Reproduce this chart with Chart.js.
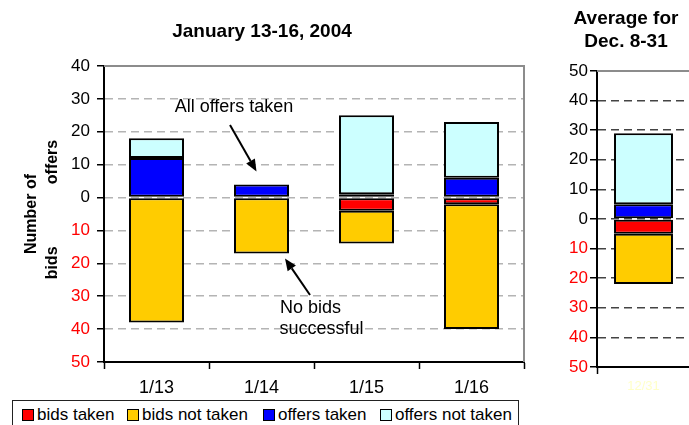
<!DOCTYPE html>
<html>
<head>
<meta charset="utf-8">
<script src="https://cdn.jsdelivr.net/npm/chart.js@4.4.1/dist/chart.umd.min.js"></script>
<style>
  html, body { margin: 0; padding: 0; background: #fff; overflow: hidden; }
  body { width: 689px; height: 425px; position: relative; font-family: 'Liberation Sans', Arial, sans-serif; }
  #left { position: absolute; left: 0; top: 0; }
  #right { position: absolute; left: 540px; top: 0; }
  #legend { position: absolute; left: 12px; top: 400px; width: 507px; height: 32px; border: 1.5px solid #222; box-sizing: border-box; }
  .item { position: absolute; top: 4px; font-size: 17px; line-height: 20px; white-space: nowrap; color: #000; }
  .sq { display: inline-block; width: 10px; height: 10px; border: 1px solid #000; margin-right: 3px; vertical-align: -1px; }
</style>
</head>
<body>
<canvas id="left" width="530" height="400"></canvas>
<canvas id="right" width="150" height="400"></canvas>
<div id="legend"></div>
<script>
/* 데이터 - January 13-16 */
const days = ['1/13', '1/14', '1/15', '1/16'];
const bidsTaken = [0, 0, -4, -2];
const bidsNotTaken = [-38, -17, -10, -38];
const offersTaken = [12, 4, 1, 6];
const offersNotTaken = [6, 0, 24, 17];

/* 데이터 - average Dec. 8-31 */
const avgLabel = ['12/31'];
const avgBidsTaken = [-5];
const avgBidsNotTaken = [-17];
const avgOffersTaken = [5];
const avgOffersNotTaken = [24];

const seriesNames = ['bids taken', 'bids not taken', 'offers taken', 'offers not taken'];
const seriesColors = ['#ff0000', '#ffcc00', '#0000ff', '#ccffff'];

const FONT = "'Liberation Sans', Arial, sans-serif";
Chart.defaults.font.family = FONT;
Chart.defaults.color = '#000';

function makeSets(a, b, c, d, pct) {
  return [a, b, c, d].map((vals, i) => ({
    label: seriesNames[i],
    data: vals,
    backgroundColor: seriesColors[i],
    borderColor: '#000',
    borderWidth: ctx => ctx.raw ? 2 : 0,   // 0 값은 테두리 없음
    borderSkipped: false,
    barPercentage: pct,
    categoryPercentage: 1
  }));
}

function yAxis(min, max, gridColor, pad, width) {
  return {
    stacked: true,
    min: min,
    max: max,
    afterFit: s => { s.width = width; },
    grid: { color: gridColor, lineWidth: 1.5, borderDash: [8, 5], tickColor: '#000', tickWidth: 1.5, tickLength: 7, tickBorderDash: [] },
    border: { color: '#000', width: 2, dash: [8, 5] },
    ticks: {
      stepSize: 10,
      padding: pad,
      font: { size: 17 },
      color: c => c.tick.value < 0 ? '#ff0000' : '#000',
      callback: v => Math.abs(v)
    }
  };
}

// 테두리 (위, 오른쪽 회색)
const frame = {
  id: 'frame',
  beforeDatasetsDraw(chart) {
    const { ctx, chartArea: a } = chart;
    ctx.save();
    ctx.strokeStyle = '#8c8c8c';
    ctx.lineWidth = 2;
    ctx.beginPath();
    ctx.moveTo(a.left, a.top);
    ctx.lineTo(a.right, a.top);
    ctx.lineTo(a.right, a.bottom);
    ctx.stroke();
    ctx.restore();
  }
};

function arrow(ctx, x1, y1, x2, y2) {
  const ang = Math.atan2(y2 - y1, x2 - x1);
  const hl = 12, hw = 5;
  const bx = x2 - hl * Math.cos(ang), by = y2 - hl * Math.sin(ang);
  ctx.beginPath();
  ctx.moveTo(x1, y1);
  ctx.lineTo(bx, by);
  ctx.stroke();
  ctx.beginPath();
  ctx.moveTo(x2, y2);
  ctx.lineTo(bx + hw * Math.sin(ang), by - hw * Math.cos(ang));
  ctx.lineTo(bx - hw * Math.sin(ang), by + hw * Math.cos(ang));
  ctx.closePath();
  ctx.fill();
}

// 주석 (All offers taken / No bids successful)
const notes = {
  id: 'notes',
  afterDatasetsDraw(chart) {
    const ctx = chart.ctx;
    const x = chart.scales.x, y = chart.scales.y;
    const cx = x.getPixelForValue(1);
    const top = y.getPixelForValue(offersTaken[1]);
    const bot = y.getPixelForValue(bidsNotTaken[1]);
    ctx.save();
    ctx.fillStyle = '#000';
    ctx.strokeStyle = '#000';
    ctx.lineWidth = 2;
    ctx.font = '18px ' + FONT;
    ctx.textBaseline = 'middle';
    ctx.textAlign = 'center';
    ctx.fillText('All offers taken', cx - 27.5, top - 77);
    ctx.textAlign = 'left';
    ctx.fillText('No bids', cx + 18.5, bot + 54.5);
    ctx.fillText('successful', cx + 18, bot + 75.5);
    arrow(ctx, cx - 31.5, top - 59.5, cx - 5, top - 13);
    arrow(ctx, cx + 48.5, bot + 41.5, cx + 23.5, bot + 5);
    ctx.restore();
  }
};

const config_left = {
  type: 'bar',
  data: {
    labels: days,
    datasets: makeSets(bidsTaken, bidsNotTaken, offersTaken, offersNotTaken, 0.524)
  },
  options: {
    responsive: false,
    animation: false,
    devicePixelRatio: 1,
    layout: { padding: { left: 0, right: 6, top: 0, bottom: 0 } },
    plugins: {
      legend: { display: false },
      tooltip: { enabled: false },
      title: {
        display: true,
        text: 'January 13-16, 2004',
        font: { size: 19, weight: 'bold' },
        color: '#000',
        padding: { top: 20.6, bottom: 22.6 }
      }
    },
    scales: {
      x: {
        stacked: true,
        afterFit: s => { s.height = 38; },
        grid: { drawOnChartArea: false, drawTicks: true, tickLength: 7, tickColor: '#000', tickWidth: 1.5 },
        border: { color: '#000', width: 2 },
        ticks: { font: { size: 18 }, color: '#000', padding: 8, maxRotation: 0 }
      },
      y: Object.assign(yAxis(-50, 40, '#b4b4b4', 7, 104), {
        title: {
          display: true,
          text: ['Number of', '  bids              offers'],
          font: { size: 16, weight: 'bold', lineHeight: 1.3125 },
          color: '#000',
          padding: { top: 21.5, bottom: 0 }
        }
      })
    }
  },
  plugins: [frame, notes]
};

const config_right = {
  type: 'bar',
  data: {
    labels: avgLabel,
    datasets: makeSets(avgBidsTaken, avgBidsNotTaken, avgOffersTaken, avgOffersNotTaken, 0.634)
  },
  options: {
    responsive: false,
    animation: false,
    devicePixelRatio: 1,
    layout: { padding: { left: 22, right: 0, top: 0, bottom: 0 } },
    plugins: {
      legend: { display: false },
      tooltip: { enabled: false },
      title: {
        display: true,
        text: ['Average for', 'Dec. 8-31'],
        font: { size: 19, weight: 'bold', lineHeight: 23 / 19 },
        color: '#000',
        padding: { top: 7.5, bottom: 17.5 }
      }
    },
    scales: {
      x: {
        stacked: true,
        afterFit: s => { s.height = 33; },
        grid: { drawOnChartArea: false, drawTicks: true, tickLength: 7, tickColor: '#000', tickWidth: 1.5 },
        border: { color: '#000', width: 2 },
        ticks: { font: { size: 13 }, color: '#ffffc8', padding: 5, maxRotation: 0 }
      },
      y: yAxis(-50, 50, '#444', 2, 35)
    }
  },
  plugins: [frame]
};

var chart_left = new Chart(document.getElementById('left'), config_left);
var chart_right = new Chart(document.getElementById('right'), config_right);

/* 범례 */
const legendX = [9, 114, 250, 367];
const lg = document.getElementById('legend');
seriesNames.forEach((name, i) => {
  const it = document.createElement('div');
  it.className = 'item';
  it.style.left = legendX[i] + 'px';
  it.innerHTML = '<span class="sq" style="background:' + seriesColors[i] + '"></span>' + name;
  lg.appendChild(it);
});
</script>
</body>
</html>
